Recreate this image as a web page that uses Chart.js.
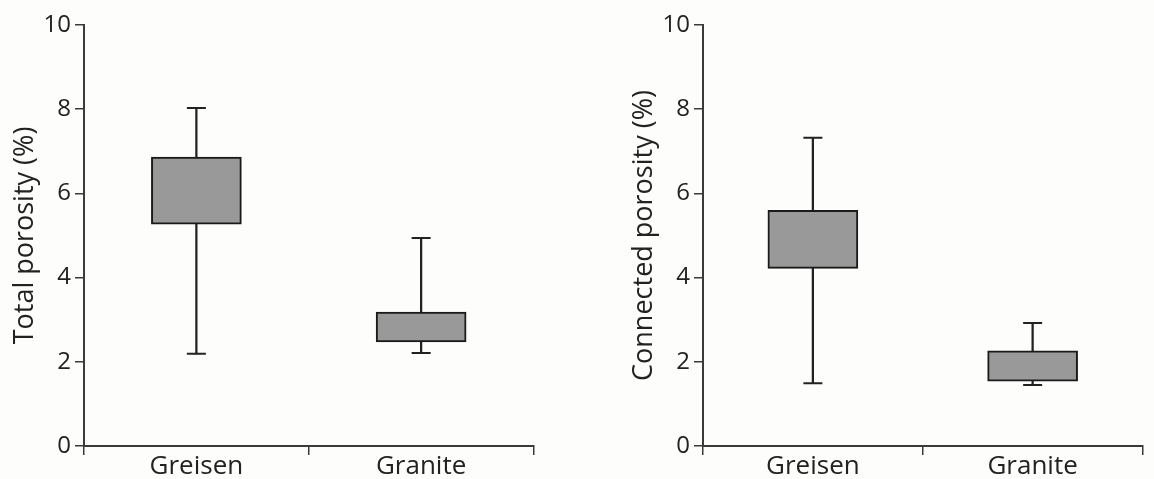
<!DOCTYPE html>
<html>
<head>
<meta charset="utf-8">
<script src="https://cdn.jsdelivr.net/npm/chart.js@4/dist/chart.umd.min.js"></script>
<style>
    body { margin: 0; background: #fdfdfb; }
    .panel { position: absolute; top: 0; }
</style>
</head>
<body>
<div class="panel" style="left:0px;"><canvas id="totalChart" width="545" height="479"></canvas></div>
<div class="panel" style="left:619px;"><canvas id="connectedChart" width="535" height="479"></canvas></div>
<script>
// Box plot values (%)
const categories = ['Greisen', 'Granite'];

const totalMin = [2.19, 2.21];
const totalQ1 = [5.27, 2.47];
const totalQ3 = [6.86, 3.18];
const totalMax = [8.03, 4.94];

const connectedMin = [1.49, 1.45];
const connectedQ1 = [4.22, 1.54];
const connectedQ3 = [5.60, 2.26];
const connectedMax = [7.32, 2.92];

const yMin = 0;
const yMax = 10;
const yStep = 2;

const inkColor = '#222222';
const axisColor = '#3a3a3a';
const boxFill = '#999999';

/**
 * Build one box plot panel: floating bar for the box, thin floating bar
 * for the whisker, and 'line' points for the whisker caps
 */
function makeBoxChart(canvasId, title, mins, q1s, q3s, maxs, padRight) {
    const ctx = document.getElementById(canvasId).getContext('2d');

    const capStyle = {
        type: 'line',
        showLine: false,
        pointStyle: 'line',
        pointRadius: 9.5,
        pointHoverRadius: 9.5,
        pointBorderWidth: 2,
        pointBorderColor: inkColor,
        borderColor: inkColor,
        order: 0
    };

    return new Chart(ctx, {
        type: 'bar',
        data: {
            labels: categories,
            datasets: [
                {
                    label: 'Box',
                    data: categories.map((c, i) => [q1s[i], q3s[i]]),
                    backgroundColor: boxFill,
                    borderColor: '#1a1a1a',
                    borderWidth: 2,
                    borderSkipped: false,
                    barThickness: 90,
                    grouped: false,
                    order: 1
                },
                {
                    label: 'Whisker',
                    data: categories.map((c, i) => [mins[i], maxs[i]]),
                    backgroundColor: inkColor,
                    borderWidth: 0,
                    barThickness: 1.6,
                    grouped: false,
                    order: 2
                },
                Object.assign({ label: 'Max', data: maxs }, capStyle),
                Object.assign({ label: 'Min', data: mins }, capStyle)
            ]
        },
        options: {
            responsive: false,
            animation: false,
            layout: {
                padding: { top: 25, right: padRight, bottom: 0, left: 0 }
            },
            plugins: {
                legend: { display: false },
                tooltip: { enabled: false }
            },
            scales: {
                x: {
                    offset: true,
                    afterFit: (scale) => { scale.height = 33; },
                    grid: {
                        display: true,
                        offset: true,
                        drawOnChartArea: false,
                        drawTicks: true,
                        tickLength: 9,
                        color: axisColor,
                        lineWidth: 1.5
                    },
                    border: { display: true, color: axisColor, width: 2 },
                    ticks: {
                        color: inkColor,
                        padding: -4,
                        font: { family: 'Open Sans', size: 26 }
                    }
                },
                y: {
                    min: yMin,
                    max: yMax,
                    afterFit: (scale) => { scale.width = 84; },
                    grid: {
                        display: true,
                        drawOnChartArea: false,
                        drawTicks: true,
                        tickLength: 9,
                        color: axisColor,
                        lineWidth: 1.5
                    },
                    border: { display: true, color: axisColor, width: 2 },
                    ticks: {
                        stepSize: yStep,
                        color: inkColor,
                        padding: 4,
                        font: { family: 'Open Sans', size: 24 }
                    },
                    title: {
                        display: true,
                        text: title,
                        color: inkColor,
                        padding: { top: 9, bottom: 0 },
                        font: { family: 'Open Sans', size: 27 }
                    }
                }
            }
        }
    });
}

makeBoxChart('totalChart', 'Total porosity (%)', totalMin, totalQ1, totalQ3, totalMax, 9);
makeBoxChart('connectedChart', 'Connected porosity (%)', connectedMin, connectedQ1, connectedQ3, connectedMax, 2);
</script>
</body>
</html>
